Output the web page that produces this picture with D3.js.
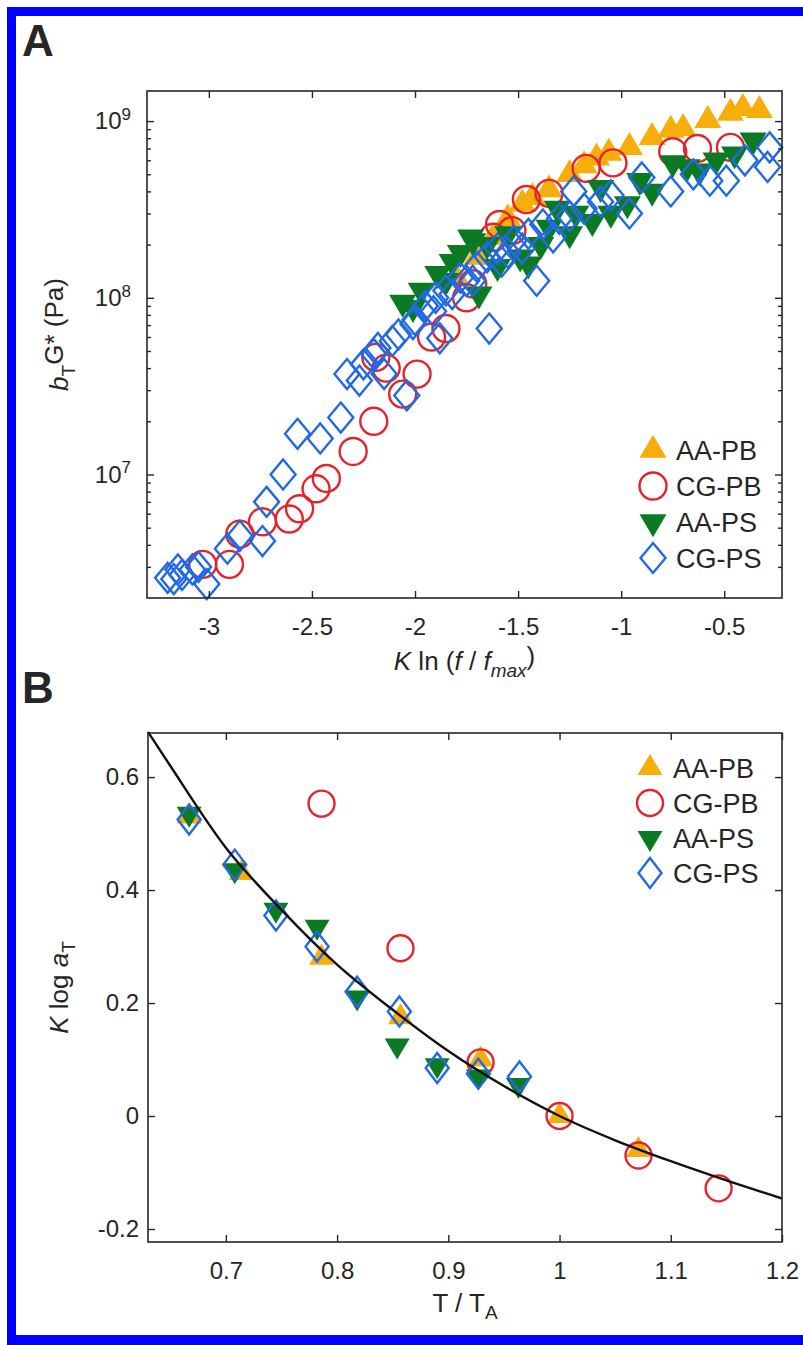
<!DOCTYPE html>
<html>
<head>
<meta charset="utf-8">
<script src="https://cdn.jsdelivr.net/npm/d3@7"></script>
<style>
  body { margin: 0; background: #fff; }
  svg text { font-family: "Liberation Sans", Arial, sans-serif; fill: #262626; }
</style>
</head>
<body>
<div id="chart"></div>
<script>
// ---- Panel A: master curves b_T G* vs K ln(f/fmax) ----
const aaPbX = [-1.80, -1.70, -1.62, -1.55, -1.48, -1.43, -1.35, -1.25, -1.18, -1.12, -1.06, -0.96, -0.85, -0.76, -0.70, -0.58, -0.47, -0.41, -0.33];
const aaPbG = [1.3e8, 1.7e8, 2.2e8, 2.8e8, 3.4e8, 3.7e8, 4.1e8, 5.0e8, 5.6e8, 6.2e8, 6.6e8, 7.1e8, 8.1e8, 8.9e8, 9.1e8, 1.01e9, 1.11e9, 1.18e9, 1.15e9];

const cgPbX = [-3.03, -2.90, -2.85, -2.74, -2.61, -2.56, -2.48, -2.43, -2.30, -2.20, -2.19, -2.14, -2.06, -1.99, -1.92, -1.85, -1.75, -1.72, -1.62, -1.59, -1.53, -1.46, -1.35, -1.17, -1.04, -0.75, -0.63, -0.47];
const cgPbG = [3.1e6, 3.1e6, 4.6e6, 5.4e6, 5.6e6, 6.4e6, 8.3e6, 9.5e6, 1.35e7, 2.0e7, 4.6e7, 4.0e7, 2.85e7, 3.7e7, 6.0e7, 6.7e7, 1.0e8, 1.2e8, 2.2e8, 2.6e8, 2.4e8, 3.6e8, 3.9e8, 5.4e8, 5.8e8, 6.7e8, 7.0e8, 7.1e8];

const aaPsX = [-2.06, -2.01, -1.97, -1.89, -1.85, -1.82, -1.78, -1.73, -1.72, -1.69, -1.65, -1.60, -1.55, -1.49, -1.45, -1.39, -1.35, -1.31, -1.25, -1.22, -1.14, -1.10, -1.05, -0.97, -0.91, -0.85, -0.75, -0.68, -0.62, -0.54, -0.45, -0.36];
const aaPsG = [9.4e7, 8.8e7, 1.1e8, 1.37e8, 1.25e8, 1.6e8, 1.8e8, 2.2e8, 2.1e8, 1.05e8, 2.0e8, 1.5e8, 2.3e8, 1.7e8, 1.55e8, 2.0e8, 2.5e8, 3.2e8, 2.3e8, 3.0e8, 2.7e8, 4.2e8, 3.0e8, 3.4e8, 4.6e8, 4.0e8, 5.8e8, 5.5e8, 5.2e8, 6.0e8, 6.5e8, 7.8e8];

const cgPsX = [-3.20, -3.17, -3.15, -3.13, -3.08, -3.05, -3.01, -2.91, -2.85, -2.74, -2.72, -2.64, -2.57, -2.46, -2.36, -2.33, -2.27, -2.25, -2.20, -2.18, -2.15, -2.11, -2.08, -2.04, -2.01, -2.00, -1.95, -1.91, -1.90, -1.88, -1.85, -1.82, -1.78, -1.75, -1.72, -1.70, -1.65, -1.64, -1.60, -1.58, -1.55, -1.52, -1.48, -1.45, -1.41, -1.38, -1.33, -1.30, -1.25, -1.23, -1.18, -1.10, -1.05, -0.96, -0.90, -0.76, -0.65, -0.57, -0.49, -0.40, -0.29, -0.28];
const cgPsG = [2.6e6, 2.56e6, 2.9e6, 2.7e6, 2.9e6, 3.0e6, 2.4e6, 3.8e6, 4.5e6, 4.2e6, 7.0e6, 1.0e7, 1.7e7, 1.6e7, 2.1e7, 3.7e7, 3.4e7, 4.2e7, 4.8e7, 5.2e7, 3.7e7, 5.7e7, 6.2e7, 2.8e7, 7.1e7, 7.5e7, 9.0e7, 8.4e7, 1.0e8, 5.9e7, 1.1e8, 1.05e8, 1.3e8, 1.25e8, 1.25e8, 1.5e8, 1.7e8, 6.7e7, 1.9e8, 1.6e8, 1.8e8, 2.1e8, 1.9e8, 2.3e8, 1.25e8, 2.6e8, 2.2e8, 2.8e8, 2.9e8, 4.0e8, 3.2e8, 3.5e8, 3.8e8, 3.0e8, 4.8e8, 4.0e8, 5.0e8, 4.6e8, 4.6e8, 6.0e8, 5.5e8, 7.1e8];

const aTicksX = [-3, -2.5, -2, -1.5, -1, -0.5];
const aTicksY = [1e7, 1e8, 1e9];

// ---- Panel B: shift factors K log aT vs T/TA ----
const bAaPbX = [0.667, 0.714, 0.786, 0.857, 0.929, 1.0, 1.071];
const bAaPbY = [0.53, 0.43, 0.28, 0.175, 0.10, 0.0, -0.06];
const bCgPbX = [0.786, 0.857, 0.929, 1.0, 1.071, 1.143];
const bCgPbY = [0.553, 0.297, 0.095, 0.0, -0.07, -0.128];
const bAaPsX = [0.667, 0.708, 0.745, 0.782, 0.818, 0.854, 0.890, 0.927, 0.963];
const bAaPsY = [0.535, 0.435, 0.365, 0.335, 0.21, 0.125, 0.09, 0.07, 0.055];
const bCgPsX = [0.667, 0.708, 0.745, 0.782, 0.818, 0.856, 0.890, 0.927, 0.964];
const bCgPsY = [0.525, 0.445, 0.355, 0.30, 0.22, 0.185, 0.085, 0.075, 0.07];

// fitted curve
const fitX = [0.63, 0.65, 0.70, 0.75, 0.80, 0.85, 0.90, 0.95, 1.00, 1.05, 1.10, 1.15, 1.20];
const fitY = [0.68, 0.62, 0.475, 0.365, 0.268, 0.188, 0.115, 0.053, 0.0, -0.043, -0.08, -0.114, -0.146];

const bTicksX = [0.7, 0.8, 0.9, 1, 1.1, 1.2];
const bTicksY = [-0.2, 0, 0.2, 0.4, 0.6];

const seriesNames = ["AA-PB", "CG-PB", "AA-PS", "CG-PS"];
const seriesColors = ["#f7ad0c", "#e3242b", "#0b7a22", "#2269e6"];
const seriesShapes = ["up", "circle", "down", "diamond"];

const W = 803, H = 1345;
const ink = "#262626";

const svg = d3.select("#chart").append("svg")
    .attr("width", W)
    .attr("height", H);

// blue frame round the figure
svg.append("rect").attr("x", 7).attr("y", 7).attr("width", W - 7).attr("height", 9).attr("fill", "#0000ff");
svg.append("rect").attr("x", 7).attr("y", 7).attr("width", 9).attr("height", H - 7).attr("fill", "#0000ff");
svg.append("rect").attr("x", 7).attr("y", H - 10).attr("width", W - 7).attr("height", 10).attr("fill", "#0000ff");

// marker path, centred on 0,0
function marker(shape, s) {
    if (shape === "up") {
        const w = s.tw, h = s.th;
        return `M0,${-h * 2 / 3}L${w / 2},${h / 3}L${-w / 2},${h / 3}Z`;
    }
    if (shape === "down") {
        const w = s.tw, h = s.th;
        return `M0,${h * 2 / 3}L${w / 2},${-h / 3}L${-w / 2},${-h / 3}Z`;
    }
    if (shape === "diamond") {
        return `M0,${-s.dh}L${s.dw},0L0,${s.dh}L${-s.dw},0Z`;
    }
    const p = d3.path();
    p.arc(0, 0, s.r, 0, 2 * Math.PI);
    return p.toString();
}

function drawSeries(g, xs, ys, i, x, y, sz) {
    const filled = seriesShapes[i] === "up" || seriesShapes[i] === "down";
    g.append("g").selectAll("path")
        .data(xs.map((d, k) => [d, ys[k]]))
        .enter()
        .append("path")
            .attr("d", marker(seriesShapes[i], sz))
            .attr("transform", d => `translate(${x(d[0])},${y(d[1])})`)
            .attr("fill", filled ? seriesColors[i] : "none")
            .attr("stroke", filled ? "none" : seriesColors[i])
            .attr("stroke-width", 2.4);
}

function drawLegend(g, lx, ly0, step, sz) {
    seriesNames.forEach((name, i) => {
        const filled = seriesShapes[i] === "up" || seriesShapes[i] === "down";
        const cy = ly0 + i * step;
        g.append("path")
            .attr("d", marker(seriesShapes[i], sz))
            .attr("transform", `translate(${lx},${cy})`)
            .attr("fill", filled ? seriesColors[i] : "none")
            .attr("stroke", filled ? "none" : seriesColors[i])
            .attr("stroke-width", 2.4);
        g.append("text")
            .attr("x", lx + 23)
            .attr("y", cy + 10)
            .style("font-size", "27px")
            .text(name);
    });
}

function styleAxis(g) {
    g.select(".domain").remove();
    g.selectAll(".tick line").attr("stroke", ink).attr("stroke-width", 1.4);
    g.selectAll(".tick text").style("font-size", "24px").attr("fill", ink);
}

// ================= Panel A =================
const a = { left: 147, right: 782, top: 91, bottom: 598 };
const xA = d3.scaleLinear().domain([-3.3, -0.22]).range([a.left, a.right]);
const yA = d3.scaleLog().domain([2e6, 1.48e9]).range([a.bottom, a.top]);

const gA = svg.append("g");
const sizeA = { tw: 27, th: 23, r: 13.5, dw: 12.5, dh: 15 };

drawSeries(gA, aaPbX, aaPbG, 0, xA, yA, sizeA);
drawSeries(gA, cgPbX, cgPbG, 1, xA, yA, sizeA);
drawSeries(gA, aaPsX, aaPsG, 2, xA, yA, sizeA);
drawSeries(gA, cgPsX, cgPsG, 3, xA, yA, sizeA);

// minor ticks on the log axis
const minorA = [];
[1e6, 1e7, 1e8].forEach(dec => {
    for (let m = 2; m <= 9; m++) {
        const v = m * dec;
        if (v > 2e6 && v < 1.48e9) minorA.push(v);
    }
});

gA.append("g")
    .attr("transform", `translate(0,${a.bottom})`)
    .call(d3.axisBottom(xA).tickValues(aTicksX).tickSize(-7).tickPadding(20).tickFormat(d => String(d)))
    .call(styleAxis);
gA.append("g")
    .attr("transform", `translate(0,${a.top})`)
    .call(d3.axisTop(xA).tickValues(aTicksX).tickSize(-7).tickFormat(""))
    .call(styleAxis);
gA.append("g")
    .attr("transform", `translate(${a.left},0)`)
    .call(d3.axisLeft(yA).tickValues(aTicksY).tickSize(-7).tickPadding(16).tickFormat(""))
    .call(styleAxis)
    .call(g => g.selectAll(".tick text").each(function(d) {
        const t = d3.select(this);
        t.append("tspan").text("10");
        t.append("tspan").attr("dy", "-0.55em").style("font-size", "17px").text(Math.round(Math.log10(d)));
    }));
gA.append("g")
    .attr("transform", `translate(${a.left},0)`)
    .call(d3.axisLeft(yA).tickValues(minorA).tickSize(-4).tickFormat(""))
    .call(styleAxis);
gA.append("g")
    .attr("transform", `translate(${a.right},0)`)
    .call(d3.axisRight(yA).tickValues(aTicksY).tickSize(-7).tickFormat(""))
    .call(styleAxis);
gA.append("g")
    .attr("transform", `translate(${a.right},0)`)
    .call(d3.axisRight(yA).tickValues(minorA).tickSize(-4).tickFormat(""))
    .call(styleAxis);

gA.append("rect")
    .attr("x", a.left).attr("y", a.top)
    .attr("width", a.right - a.left).attr("height", a.bottom - a.top)
    .attr("fill", "none").attr("stroke", ink).attr("stroke-width", 1.6);

drawLegend(gA, 653, 450, 36, sizeA);

// axis titles A
const xTitleA = gA.append("text")
    .attr("x", (a.left + a.right) / 2)
    .attr("y", 670)
    .attr("text-anchor", "middle")
    .style("font-size", "26px");
xTitleA.append("tspan").style("font-style", "italic").text("K");
xTitleA.append("tspan").text(" ln (");
xTitleA.append("tspan").style("font-style", "italic").text("f");
xTitleA.append("tspan").text(" / ");
xTitleA.append("tspan").style("font-style", "italic").text("f");
xTitleA.append("tspan").attr("dy", "0.35em").style("font-style", "italic").style("font-size", "19px").text("max");
xTitleA.append("tspan").attr("dy", "-0.45em").text(")");

const yTitleA = gA.append("text")
    .attr("transform", `translate(68,${(a.top + a.bottom) / 2 - 10}) rotate(-90)`)
    .attr("text-anchor", "middle")
    .style("font-size", "26px");
yTitleA.append("tspan").style("font-style", "italic").text("b");
yTitleA.append("tspan").attr("dy", "0.35em").style("font-size", "19px").text("T");
yTitleA.append("tspan").attr("dy", "-0.45em").text("G* (Pa)");

svg.append("text")
    .attr("x", 22).attr("y", 56)
    .style("font-size", "44px").style("font-weight", "bold").attr("fill", "#000")
    .text("A");

// ================= Panel B =================
const b = { left: 148, right: 782, top: 733, bottom: 1242 };
const xB = d3.scaleLinear().domain([0.63, 1.2]).range([b.left, b.right]);
const yB = d3.scaleLinear().domain([-0.223, 0.678]).range([b.bottom, b.top]);

const gB = svg.append("g");
const sizeB = { tw: 25, th: 21, r: 13, dw: 11.5, dh: 15 };

drawSeries(gB, bAaPbX, bAaPbY, 0, xB, yB, sizeB);
drawSeries(gB, bCgPbX, bCgPbY, 1, xB, yB, sizeB);
drawSeries(gB, bAaPsX, bAaPsY, 2, xB, yB, sizeB);
drawSeries(gB, bCgPsX, bCgPsY, 3, xB, yB, sizeB);

gB.append("path")
    .datum(fitX.map((d, k) => [d, fitY[k]]))
    .attr("fill", "none")
    .attr("stroke", "#111")
    .attr("stroke-width", 2.4)
    .attr("d", d3.line().x(d => xB(d[0])).y(d => yB(d[1])).curve(d3.curveMonotoneX));

gB.append("g")
    .attr("transform", `translate(0,${b.bottom})`)
    .call(d3.axisBottom(xB).tickValues(bTicksX).tickSize(-7).tickPadding(20).tickFormat(d => String(d)))
    .call(styleAxis);
gB.append("g")
    .attr("transform", `translate(0,${b.top})`)
    .call(d3.axisTop(xB).tickValues(bTicksX).tickSize(-7).tickFormat(""))
    .call(styleAxis);
gB.append("g")
    .attr("transform", `translate(${b.left},0)`)
    .call(d3.axisLeft(yB).tickValues(bTicksY).tickSize(-7).tickPadding(9).tickFormat(d => String(d)))
    .call(styleAxis);
gB.append("g")
    .attr("transform", `translate(${b.right},0)`)
    .call(d3.axisRight(yB).tickValues(bTicksY).tickSize(-7).tickFormat(""))
    .call(styleAxis);

gB.append("rect")
    .attr("x", b.left).attr("y", b.top)
    .attr("width", b.right - b.left).attr("height", b.bottom - b.top)
    .attr("fill", "none").attr("stroke", ink).attr("stroke-width", 1.6);

drawLegend(gB, 650, 768, 35, sizeB);

const xTitleB = gB.append("text")
    .attr("x", (b.left + b.right) / 2)
    .attr("y", 1312)
    .attr("text-anchor", "middle")
    .style("font-size", "26px");
xTitleB.append("tspan").text("T / T");
xTitleB.append("tspan").attr("dy", "0.35em").style("font-size", "19px").text("A");

const yTitleB = gB.append("text")
    .attr("transform", `translate(68,${(b.top + b.bottom) / 2}) rotate(-90)`)
    .attr("text-anchor", "middle")
    .style("font-size", "26px");
yTitleB.append("tspan").style("font-style", "italic").text("K");
yTitleB.append("tspan").text(" log ");
yTitleB.append("tspan").style("font-style", "italic").text("a");
yTitleB.append("tspan").attr("dy", "0.35em").style("font-size", "19px").text("T");

svg.append("text")
    .attr("x", 22).attr("y", 703)
    .style("font-size", "44px").style("font-weight", "bold").attr("fill", "#000")
    .text("B");
</script>
</body>
</html>
